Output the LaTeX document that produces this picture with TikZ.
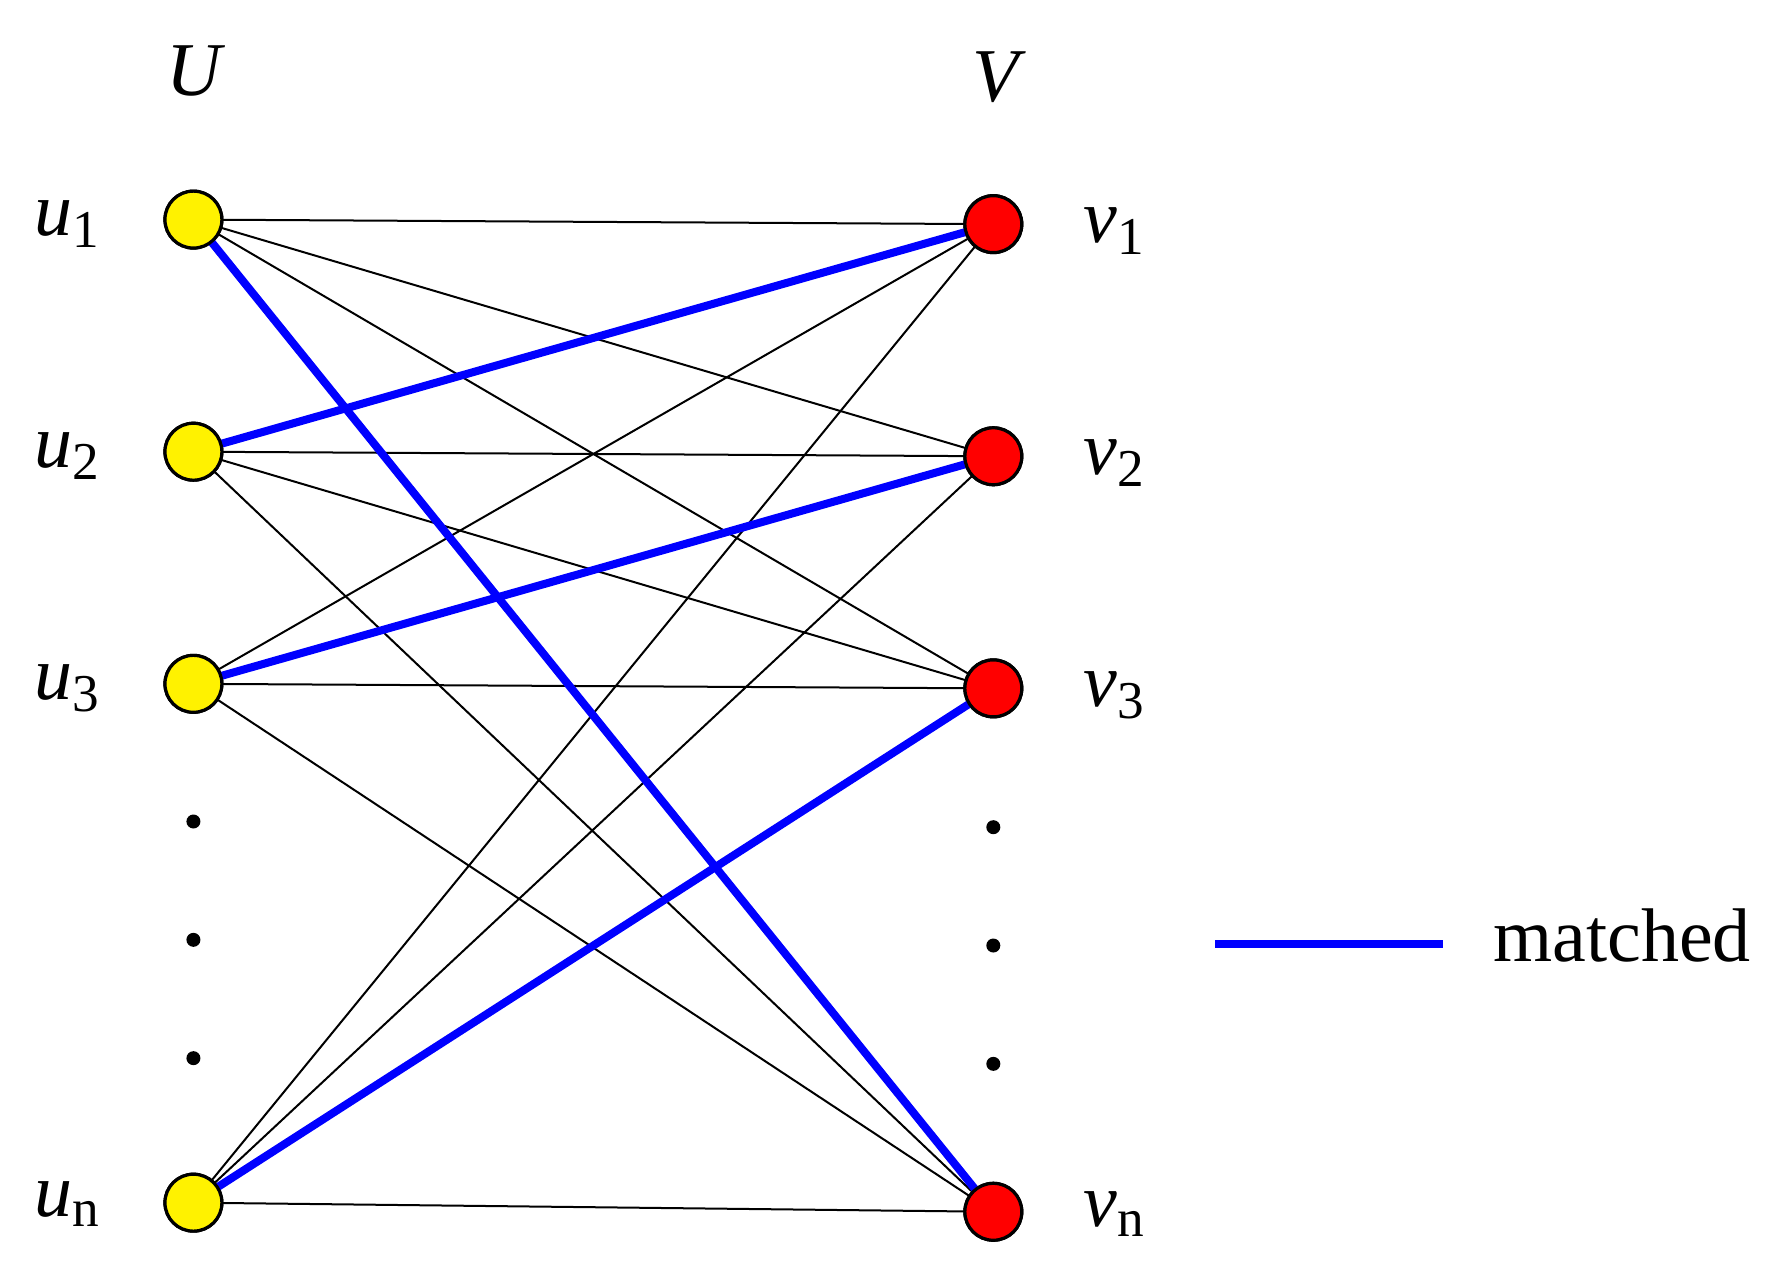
\documentclass[tikz,border=0pt]{standalone}
\usepackage{fontspec}
\setmainfont{Liberation Serif}
\begin{document}
\begin{tikzpicture}[x=0.01cm,y=-0.01cm,
  unode/.style={circle,draw=black,line width=0.8pt,fill=yellow,minimum size=0.5cm,inner sep=0pt},
  vnode/.style={circle,draw=black,line width=0.8pt,fill=red,minimum size=0.5cm,inner sep=0pt},
  thin edge/.style={black,line width=0.5pt},
  matched/.style={blue,line width=2pt},
  lbl/.style={font=\fontsize{19}{22}\selectfont},
  dotn/.style={circle,fill=black,minimum size=3.5pt,inner sep=0pt}]
\useasboundingbox (0,0) rectangle (1560,1128);
\node[lbl] (U) at (172,62) {\textit{U}};
\node[lbl] (V) at (878,68) {\textit{V}};
\node[unode] (u1) at (170,193) {};
\node[unode] (u2) at (170,397) {};
\node[unode] (u3) at (170,601) {};
\node[unode] (un) at (170,1057) {};
\node[vnode] (v1) at (873,197) {};
\node[vnode] (v2) at (873,401) {};
\node[vnode] (v3) at (873,605) {};
\node[vnode] (vn) at (873,1065) {};
\node[lbl] (lu1) at (60,197) {\textit{u}$_{\mathrm{1}}$};
\node[lbl] (lu2) at (60,401) {\textit{u}$_{\mathrm{2}}$};
\node[lbl] (lu3) at (60,605) {\textit{u}$_{\mathrm{3}}$};
\node[lbl] (lun) at (60,1058) {\textit{u}\textsubscript{n}};
\node[lbl] (lv1) at (980,203) {\textit{v}$_{\mathrm{1}}$};
\node[lbl] (lv2) at (980,407) {\textit{v}$_{\mathrm{2}}$};
\node[lbl] (lv3) at (980,611) {\textit{v}$_{\mathrm{3}}$};
\node[lbl] (lvn) at (980,1067) {\textit{v}\textsubscript{n}};
\foreach \y [count=\i] in {722,826,930} \node[dotn] (du\i) at (170,\y) {};
\foreach \y [count=\i] in {727,831,935} \node[dotn] (dv\i) at (873,\y) {};
\begin{scope}[on background layer/.style={}]
\end{scope}
\draw[thin edge] (u1.center) -- (v1.center);
\draw[thin edge] (u1.center) -- (v2.center);
\draw[thin edge] (u1.center) -- (v3.center);
\draw[thin edge] (u2.center) -- (v2.center);
\draw[thin edge] (u2.center) -- (v3.center);
\draw[thin edge] (u2.center) -- (vn.center);
\draw[thin edge] (u3.center) -- (v1.center);
\draw[thin edge] (u3.center) -- (v3.center);
\draw[thin edge] (u3.center) -- (vn.center);
\draw[thin edge] (un.center) -- (v1.center);
\draw[thin edge] (un.center) -- (v2.center);
\draw[thin edge] (un.center) -- (vn.center);
\draw[matched] (u1.center) -- (vn.center);
\draw[matched] (u2.center) -- (v1.center);
\draw[matched] (u3.center) -- (v2.center);
\draw[matched] (un.center) -- (v3.center);
\foreach \n in {u1,u2,u3,un} \node[unode] at (\n) {};
\foreach \n in {v1,v2,v3,vn} \node[vnode] at (\n) {};
\coordinate (la) at (1068,830);
\coordinate (lb) at (1268,830);
\draw[matched] (la) -- (lb);
\node[lbl,anchor=west] (mt) at (1300,822) {matched};
\end{tikzpicture}
\end{document}
